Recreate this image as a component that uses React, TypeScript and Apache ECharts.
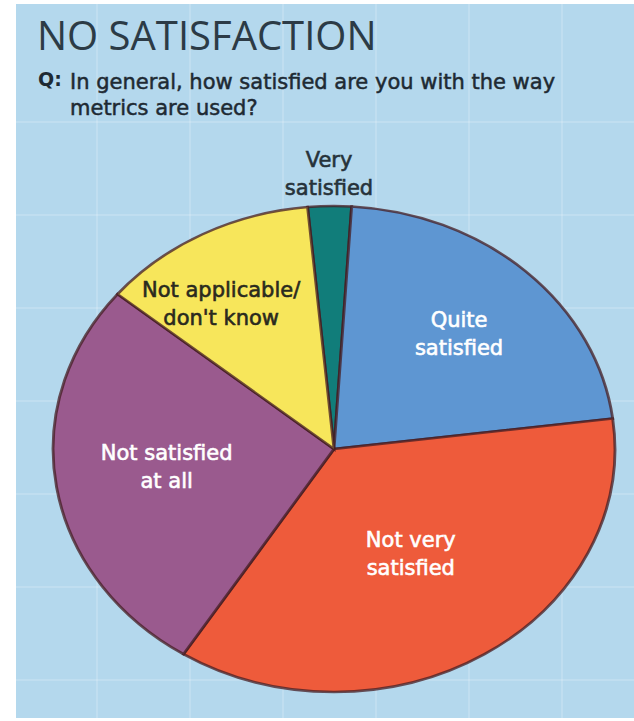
import React, { useEffect, useRef } from "react";
import * as echarts from "echarts";

const categories = [
  "Very satisfied",
  "Quite satisfied",
  "Not very satisfied",
  "Not satisfied at all",
  "Not applicable/ don't know",
];
const labelLines = [
  ["Very", "satisfied"],
  ["Quite", "satisfied"],
  ["Not very", "satisfied"],
  ["Not satisfied", "at all"],
  ["Not applicable/", "don't know"],
];
const values = [2.5, 22, 36, 27, 12.5];
const titleText = "NO SATISFACTION";
const questionLines = ["In general, how satisfied are you with the way", "metrics are used?"];

const colors = ["#117d7a", "#5e96d2", "#ee5b3b", "#9a5a8e", "#f7e65b"];
const labelColors = ["#26323a", "#ffffff", "#ffffff", "#ffffff", "#2a2a1e"];
const labelRadius = [1.13, 0.65, 0.51, 0.6, 0.72];
const labelAngleOffset = [0, 0, 0, 2, -6];

const W = 634;
const H = 721;
const CX = 334;
const CY = 449;
const RX = 281;
const RY = 243;
const START_DEG = -5.4; // clockwise from top

export default function App() {
  const ref = useRef<HTMLDivElement>(null);
  useEffect(() => {
    document.body.style.margin = "0";
    if (!ref.current) return;
    const chart = echarts.init(ref.current, undefined, { renderer: "svg" });

    const total = values.reduce((a, b) => a + b, 0);
    const starts: number[] = [];
    const ends: number[] = [];
    let acc = START_DEG;
    values.forEach((v) => {
      starts.push(acc);
      acc += (v / total) * 360;
      ends.push(acc);
    });

    const toRad = (degFromTop: number) => ((degFromTop - 90) * Math.PI) / 180;

    const gridV = [97, 190, 283, 376, 469, 562];
    const gridH = [122, 215, 308, 401, 494, 587, 680];
    const gridEls: any[] = [];
    gridV.forEach((x) =>
      gridEls.push({
        type: "line",
        shape: { x1: x, y1: 4, x2: x, y2: 718 },
        style: { stroke: "rgba(255,255,255,0.16)", lineWidth: 2 },
        silent: true,
      })
    );
    gridH.forEach((y) =>
      gridEls.push({
        type: "line",
        shape: { x1: 16, y1: y, x2: W, y2: y },
        style: { stroke: "rgba(255,255,255,0.16)", lineWidth: 2 },
        silent: true,
      })
    );

    chart.setOption({
      animation: false,
      backgroundColor: "#ffffff",
      graphic: [
        {
          type: "rect",
          shape: { x: 16, y: 4, width: W - 16, height: 714 },
          style: { fill: "#b4d8ed" },
          z: -10,
          silent: true,
        },
        ...gridEls.map((g) => ({ ...g, z: -9 })),
        {
          type: "text",
          x: 37,
          y: 14,
          style: {
            text: titleText,
            font: "normal 40px 'Open Sans', sans-serif",
            fill: "#2c3b46",
          },
        },
        {
          type: "text",
          x: 38,
          y: 69,
          style: {
            text: "Q:",
            font: "bold 19px 'DejaVu Sans', sans-serif",
            fill: "#1e2a33",
          },
        },
        {
          type: "text",
          x: 70,
          y: 69,
          style: {
            text: questionLines.join("\n"),
            font: "normal 21px 'DejaVu Sans', sans-serif",
            lineHeight: 26,
            fill: "#1e2a33",
            stroke: "#1e2a33",
            lineWidth: 0.5,
          },
        },
      ],
      series: [
        {
          type: "custom",
          coordinateSystem: "none",
          data: values.map((v, i) => ({ name: categories[i], value: [v, i] })),
          renderItem: (params: any) => {
            const i = params.dataIndex;
            const mid = (starts[i] + ends[i]) / 2 + labelAngleOffset[i];
            const a = toRad(mid);
            const lr = labelRadius[i];
            const lx = CX + Math.cos(a) * RX * lr;
            const ly = CY + Math.sin(a) * RY * lr;
            return {
              type: "group",
              children: [
                {
                  type: "sector",
                  x: CX,
                  y: CY,
                  scaleX: RX / RY,
                  scaleY: 1,
                  shape: {
                    cx: 0,
                    cy: 0,
                    r0: 0,
                    r: RY,
                    startAngle: toRad(starts[i]),
                    endAngle: toRad(ends[i]),
                    clockwise: true,
                  },
                  style: {
                    fill: colors[i],
                    stroke: "rgba(70,30,35,0.75)",
                    lineWidth: 2.5,
                    strokeNoScale: true,
                  },
                },
                {
                  type: "text",
                  x: lx,
                  y: ly,
                  z2: 10,
                  style: {
                    text: labelLines[i].join("\n"),
                    font: "normal 21px 'DejaVu Sans', sans-serif",
                    lineHeight: 28,
                    fill: labelColors[i],
                    stroke: labelColors[i],
                    lineWidth: 0.6,
                    align: "center",
                    verticalAlign: "middle",
                  },
                },
              ],
            };
          },
        },
      ],
    });
    return () => chart.dispose();
  }, []);
  return <div ref={ref} style={{ width: W, height: H }} />;
}
